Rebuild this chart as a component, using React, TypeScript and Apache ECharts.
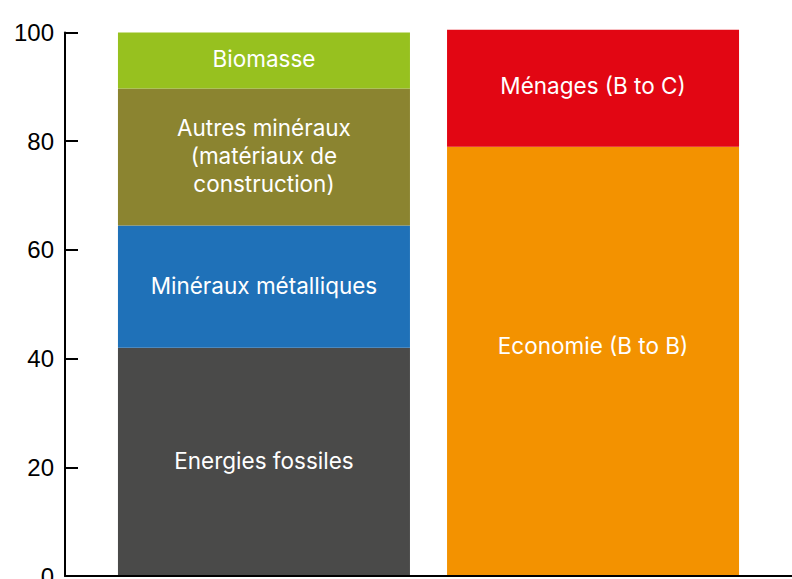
import React, { useEffect, useRef } from "react";
import * as echarts from "echarts";

const categories = [""];
const yTicks = [0, 20, 40, 60, 80, 100];

const resourceNames = [
  "Energies fossiles",
  "Minéraux métalliques",
  "Autres minéraux\n(matériaux de\nconstruction)",
  "Biomasse",
];
const resourceValues = [42, 22.5, 25.2, 10.3];
const resourceColors = ["#4A4A49", "#1F71B8", "#8B8430", "#97C11F"];

const usageNames = ["Economie (B to B)", "Ménages (B to C)"];
const usageValues = [79, 21.5];
const usageColors = ["#F39200", "#E20613"];
const usageLabelOffsets = [[0, -16], [0, -3]];

export default function App() {
  const ref = useRef<HTMLDivElement>(null);
  useEffect(() => {
    if (!ref.current) return;
    const chart = echarts.init(ref.current, null, { renderer: "svg" });
    const labelBase = {
      show: true,
      position: "inside",
      color: "#ffffff",
      fontFamily: "Inter",
      fontSize: 22.5,
      lineHeight: 28,
    };
    const series: any[] = [];
    resourceNames.forEach((n, i) => {
      series.push({
        type: "bar",
        name: n,
        stack: "resources",
        data: [resourceValues[i]],
        barWidth: 292,
        barGap: "12.7%",
        itemStyle: { color: resourceColors[i] },
        label: { ...labelBase, offset: [0, -1.5], formatter: () => n },
      });
    });
    usageNames.forEach((n, i) => {
      series.push({
        type: "bar",
        name: n,
        stack: "usage",
        data: [usageValues[i]],
        barWidth: 292,
        barGap: "12.7%",
        clip: false,
        itemStyle: { color: usageColors[i] },
        label: { ...labelBase, offset: usageLabelOffsets[i], formatter: () => n },
      });
    });
    chart.setOption({
      animation: false,
      grid: {
        left: 65,
        right: 0,
        top: 32.5,
        bottom: 3,
        containLabel: false,
        outerBoundsMode: "none",
      },
      xAxis: {
        type: "category",
        data: categories,
        axisLine: { show: true, lineStyle: { color: "#000", width: 2 } },
        axisTick: { show: false },
        axisLabel: { show: false },
        z: 10,
      },
      yAxis: {
        type: "value",
        min: yTicks[0],
        max: yTicks[yTicks.length - 1],
        interval: 20,
        axisLine: { show: true, lineStyle: { color: "#000", width: 2 } },
        axisTick: { show: true, inside: true, length: 13, lineStyle: { color: "#000", width: 2 } },
        axisLabel: { color: "#000", fontSize: 24, fontFamily: "Liberation Sans", margin: 11 },
        splitLine: { show: false },
      },
      series,
    });
    return () => chart.dispose();
  }, []);
  return <div ref={ref} style={{ width: 792, height: 579, position: "absolute", left: 0, top: 0 }} />;
}
